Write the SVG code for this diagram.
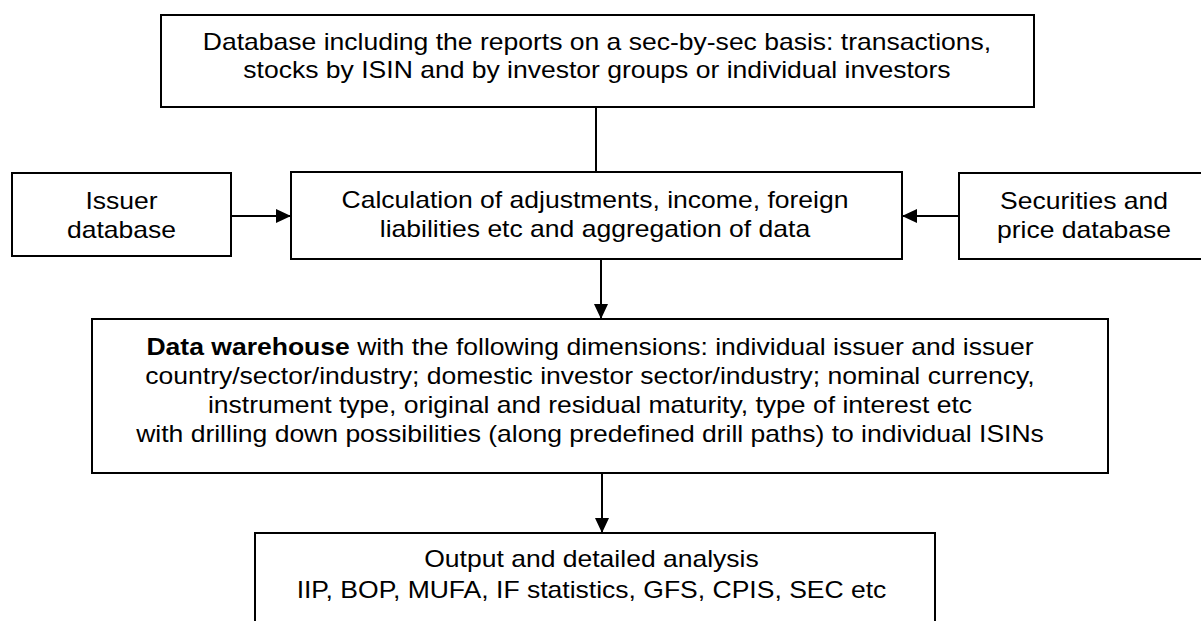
<svg xmlns="http://www.w3.org/2000/svg" width="1201" height="621" viewBox="0 0 1201 621">
<style>
  .box{fill:#fff;stroke:#000;stroke-width:2}
  .t{font-family:"Liberation Sans",Arial,sans-serif;font-size:24px;fill:#000;text-anchor:middle}
  .b{font-weight:bold}
  .c{stroke:#000;stroke-width:2;fill:none}
</style>
<defs>
  <marker id="ah" markerWidth="15" markerHeight="14" refX="15" refY="7" orient="auto" markerUnits="userSpaceOnUse" viewBox="0 0 15 14">
    <path d="M0,0 L15,7 L0,14 z" fill="#000"/>
  </marker>
</defs>
<rect width="1201" height="621" fill="#fff"/>
<g id="connectors">
  <line class="c" x1="596" y1="107" x2="596" y2="172"/>
  <line class="c" x1="231" y1="216" x2="291" y2="216" marker-end="url(#ah)"/>
  <line class="c" x1="959" y1="216" x2="902" y2="216" marker-end="url(#ah)"/>
  <line class="c" x1="601" y1="259" x2="601" y2="319" marker-end="url(#ah)"/>
  <line class="c" x1="602" y1="473" x2="602" y2="533" marker-end="url(#ah)"/>
</g>
<g id="database">
  <rect class="box" x="161" y="15" width="873" height="92"/>
  <text class="t" x="597" y="50" transform="matrix(1.105 0 0 1 -62.685 0)">Database including the reports on a sec-by-sec basis: transactions,</text>
  <text class="t" x="597" y="78" transform="matrix(1.105 0 0 1 -62.685 0)">stocks by ISIN and by investor groups or individual investors</text>
</g>
<g id="issuer">
  <rect class="box" x="12" y="173" width="219" height="83"/>
  <text class="t" x="121.5" y="209" transform="matrix(1.105 0 0 1 -12.76 0)">Issuer</text>
  <text class="t" x="121.5" y="238" transform="matrix(1.105 0 0 1 -12.76 0)">database</text>
</g>
<g id="calculation">
  <rect class="box" x="291" y="172" width="611" height="87"/>
  <text class="t" x="595" y="208" transform="matrix(1.105 0 0 1 -62.475 0)">Calculation of adjustments, income, foreign</text>
  <text class="t" x="595" y="237" transform="matrix(1.105 0 0 1 -62.475 0)">liabilities etc and aggregation of data</text>
</g>
<g id="securities">
  <rect class="box" x="959" y="173" width="250" height="86"/>
  <text class="t" x="1084" y="209" transform="matrix(1.105 0 0 1 -113.82 0)">Securities and</text>
  <text class="t" x="1084" y="238" transform="matrix(1.105 0 0 1 -113.82 0)">price database</text>
</g>
<g id="warehouse">
  <rect class="box" x="92" y="319" width="1016" height="154"/>
  <text class="t" x="590" y="355" transform="matrix(1.105 0 0 1 -61.95 0)"><tspan class="b">Data warehouse</tspan> with the following dimensions: individual issuer and issuer</text>
  <text class="t" x="590" y="384" transform="matrix(1.105 0 0 1 -61.95 0)">country/sector/industry; domestic investor sector/industry; nominal currency,</text>
  <text class="t" x="590" y="413" transform="matrix(1.105 0 0 1 -61.95 0)">instrument type, original and residual maturity, type of interest etc</text>
  <text class="t" x="590" y="442" transform="matrix(1.105 0 0 1 -61.95 0)">with drilling down possibilities (along predefined drill paths) to individual ISINs</text>
</g>
<g id="output">
  <rect class="box" x="255" y="533" width="680" height="100"/>
  <text class="t" x="591.5" y="567" transform="matrix(1.105 0 0 1 -62.1 0)">Output and detailed analysis</text>
  <text class="t" x="591.5" y="598" transform="matrix(1.105 0 0 1 -62.1 0)">IIP, BOP, MUFA, IF statistics, GFS, CPIS, SEC etc</text>
</g>
</svg>
